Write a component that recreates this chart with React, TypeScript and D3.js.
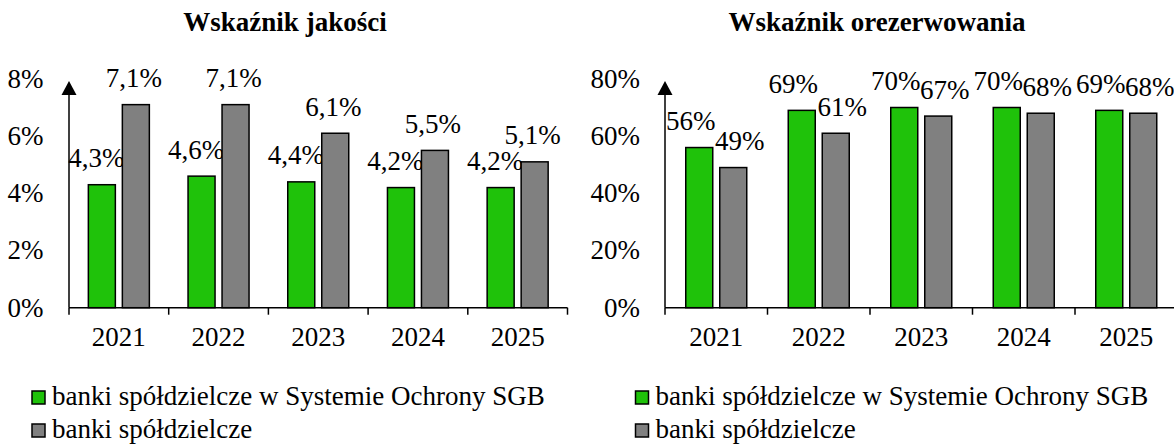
import * as d3 from "d3";

const years = ["2021", "2022", "2023", "2024", "2025"];
const seriesNames = [
  "banki spółdzielcze w Systemie Ochrony SGB",
  "banki spółdzielcze",
];
const colors = ["#1fc20a", "#808080"];

// Wskaźnik jakości (%)
const qualitySgb = [4.3, 4.6, 4.4, 4.2, 4.2];
const qualityAll = [7.1, 7.1, 6.1, 5.5, 5.1];
const qualityTicks = [0, 2, 4, 6, 8];

// Wskaźnik orezerwowania (%)
const reserveSgb = [56, 69, 70, 70, 69];
const reserveAll = [49, 61, 67, 68, 68];
const reserveTicks = [0, 20, 40, 60, 80];

const FONT = "'Liberation Serif', 'Times New Roman', serif";
const FS = 27;

const fmtComma = (v: number) => `${d3.format(".1f")(v).replace(".", ",")}%`;
const fmtInt = (v: number) => `${d3.format("d")(v)}%`;

type PanelProps = {
  title: string;
  titleX: number;
  axisX: number;
  axisEnd: number;
  labelRight: number;
  max: number;
  ticks: number[];
  series: number[][];
  fmt: (v: number) => string;
  labelDx: number[];
  legendX: number;
};

const Panel = ({
  title,
  titleX,
  axisX,
  axisEnd,
  labelRight,
  max,
  ticks,
  series,
  fmt,
  labelDx,
  legendX,
}: PanelProps) => {
  const baseY = 307.7;
  const y = d3.scaleLinear().domain([0, max]).range([baseY, 78.9]);
  const x = d3.scaleBand().domain(years).range([axisX, axisEnd]).padding(0);
  const barW = 27;
  const gap = 7;

  return (
    <g>
      <text
        x={titleX}
        y={31}
        textAnchor="middle"
        fontWeight="bold"
        fontSize={FS}
        fontFamily={FONT}
      >
        {title}
      </text>

      {ticks.map((t) => (
        <text
          key={t}
          x={labelRight}
          y={y(t)}
          dy="0.33em"
          textAnchor="end"
          fontSize={FS}
          fontFamily={FONT}
        >
          {`${t}%`}
        </text>
      ))}

      {years.map((yr, i) => {
        const c = (x(yr) ?? 0) + x.bandwidth() / 2;
        return series.map((vals, s) => {
          const bx = s === 0 ? c - gap / 2 - barW : c + gap / 2;
          const v = vals[i];
          return (
            <g key={`${yr}-${s}`}>
              <rect
                x={bx}
                y={y(v)}
                width={barW}
                height={baseY - y(v)}
                fill={colors[s]}
                stroke="#000"
                strokeWidth={1.5}
              />
              <text
                x={bx + barW / 2 + labelDx[s]}
                y={y(v) - 17.5}
                textAnchor="middle"
                fontSize={FS}
                fontFamily={FONT}
              >
                {fmt(v)}
              </text>
            </g>
          );
        });
      })}

      {/* axes */}
      <line x1={axisX} x2={axisX} y1={baseY} y2={94} stroke="#000" strokeWidth={1.5} />
      <path
        d={`M${axisX},${81} L${axisX - 7.5},${95} L${axisX + 7.5},${95} Z`}
        fill="#000"
      />
      <line x1={axisX} x2={axisEnd} y1={baseY} y2={baseY} stroke="#000" strokeWidth={1.5} />
      {years.map((yr) => (
        <line
          key={`t${yr}`}
          x1={x(yr)}
          x2={x(yr)}
          y1={baseY}
          y2={baseY + 7}
          stroke="#000"
          strokeWidth={1.5}
        />
      ))}
      <line x1={axisEnd} x2={axisEnd} y1={baseY} y2={baseY + 7} stroke="#000" strokeWidth={1.5} />
      {years.map((yr) => (
        <text
          key={`l${yr}`}
          x={(x(yr) ?? 0) + x.bandwidth() / 2}
          y={346}
          textAnchor="middle"
          fontSize={FS}
          fontFamily={FONT}
        >
          {yr}
        </text>
      ))}

      {/* legend */}
      {seriesNames.map((n, s) => (
        <g key={n} transform={`translate(${legendX},${391 + s * 33})`}>
          <rect x={0} y={0} width={13} height={13} fill={colors[s]} stroke="#000" strokeWidth={1.5} />
          <text x={20} y={13.5} fontSize={FS} fontFamily={FONT}>
            {n}
          </text>
        </g>
      ))}
    </g>
  );
};

export default function App() {
  return (
    <svg
      width={1174}
      height={444}
      viewBox="0 0 1174 444"
      style={{ position: "absolute", left: 0, top: 0, background: "#fff" }}
    >
      <Panel
        title="Wskaźnik jakości"
        titleX={285}
        axisX={69}
        axisEnd={567.5}
        labelRight={43.5}
        max={8}
        ticks={qualityTicks}
        series={[qualitySgb, qualityAll]}
        fmt={fmtComma}
        labelDx={[-5.5, -2]}
        legendX={32}
      />
      <Panel
        title="Wskaźnik orezerwowania"
        titleX={877}
        axisX={665}
        axisEnd={1177.5}
        labelRight={640}
        max={80}
        ticks={reserveTicks}
        series={[reserveSgb, reserveAll]}
        fmt={fmtInt}
        labelDx={[-8.5, 6.5]}
        legendX={635.5}
      />
    </svg>
  );
}
